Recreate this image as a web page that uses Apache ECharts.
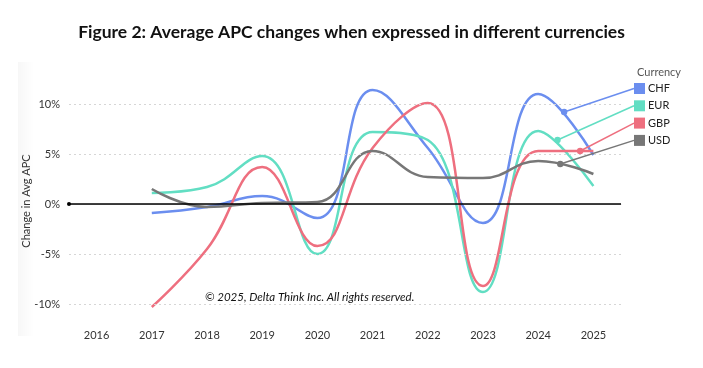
<!DOCTYPE html>
<html><head><meta charset="utf-8">
<script src="https://cdn.jsdelivr.net/npm/echarts@6/dist/echarts.min.js"></script>
<style>html,body{margin:0;padding:0;background:#fff}#c{width:703px;height:368px}</style>
</head><body><div id="c"></div>
<script>
const years = ['2016','2017','2018','2019','2020','2021','2022','2023','2024','2025'];
const seriesNames = ['CHF','EUR','GBP','USD'];
const chf = [null, -0.9, -0.3, 0.8, -1.4, 11.4, 5.6, -1.9, 11.0, 4.9];
const eur = [null, 1.1, 1.7, 4.8, -5.0, 7.2, 6.4, -8.8, 7.3, 1.8];
const gbp = [null, -10.3, -4.5, 3.7, -4.2, 5.6, 10.1, -8.2, 5.3, 5.3];
const usd = [null, 1.5, -0.3, 0.1, 0.2, 5.3, 2.7, 2.6, 4.3, 3.0];
const yTicks = [-10, -5, 0, 5, 10];
// callout points (fractional category index, value)
const calloutX = [8.47, 8.35, 8.76, 8.40];
const calloutY = [9.2, 6.4, 5.3, 4.0];

const colors = ['#6B8EEF', '#62DEC3', '#EE6F7F', '#777777'];
const values = [chf, eur, gbp, usd];
const FONT = 'Lato';

const chart = echarts.init(document.getElementById('c'), null, {renderer: 'canvas'});

const legendLeft = 634, legendTop = 83, itemH = 11, itemGap = 6.3;

const series = seriesNames.map((n, i) => ({
  name: n, type: 'line', data: values[i], smooth: 0.45,
  showSymbol: false, symbol: 'none',
  lineStyle: {width: 2.5, color: colors[i]},
  itemStyle: {color: colors[i]},
  z: 3
}));
series.push({
  type: 'line', data: [], silent: true, symbol: 'none',
  markLine: {
    silent: true, symbol: ['none', 'none'], label: {show: false},
    lineStyle: {type: [2, 3], color: '#d6d6d6', width: 1},
    data: yTicks.filter(v => v !== 0).map(v => ({yAxis: v}))
  },
  z: 1
});
series.push({
  type: 'line', data: [], silent: true, symbol: 'none',
  markLine: {
    silent: true, symbol: ['circle', 'none'], symbolSize: 4, label: {show: false},
    lineStyle: {type: 'solid', color: '#000', width: 1.5},
    data: [{yAxis: 0}]
  },
  z: 2
});

chart.setOption({
  animation: false,
  textStyle: {fontFamily: FONT},
  title: [
    {text: 'Figure 2: Average APC changes when expressed in different currencies', left: 'center', top: 18,
     textStyle: {fontFamily: FONT, fontWeight: 'bold', fontSize: 17.5, color: '#111'}},
    {text: 'Currency', left: 632, top: 62, textStyle: {fontFamily: FONT, fontWeight: 'normal', fontSize: 11, color: '#555'}}
  ],
  legend: {
    data: seriesNames, orient: 'vertical', left: legendLeft, top: legendTop,
    itemWidth: 11, itemHeight: itemH, itemGap: itemGap, icon: 'rect',
    textStyle: {fontFamily: FONT, fontSize: 11, color: '#222', padding: [0, 0, 0, -2]},
    padding: 0
  },
  grid: {left: 69, right: 82, top: 84, bottom: 50, containLabel: false},
  xAxis: [
    {type: 'category', data: years, boundaryGap: true,
     axisLine: {show: true, lineStyle: {color: '#dcdcdc', width: 1}},
     axisTick: {show: false},
     axisLabel: {fontFamily: FONT, fontSize: 11, color: '#333', margin: 12}},
    {type: 'value', min: -0.5, max: 9.5, show: false}
  ],
  yAxis: {
    type: 'value', min: -11.4, max: 12, splitNumber: 5,
    name: 'Change in Avg APC', nameLocation: 'middle', nameGap: 37, nameMoveOverlap: false,
    nameTextStyle: {fontFamily: FONT, fontSize: 11, color: '#333'},
    axisLine: {show: false}, axisTick: {show: false}, splitLine: {show: false},
    axisLabel: {fontFamily: FONT, fontSize: 11, color: '#333', margin: 9,
      formatter: v => (yTicks.indexOf(Math.round(v * 10) / 10) >= 0 ? v + '%' : '')}
  },
  series: series
});

function drawExtras() {
  const els = [];
  els.push({type: 'rect', shape: {x: 18, y: 62, width: 16, height: 274}, silent: true, z: -10,
    style: {fill: new echarts.graphic.LinearGradient(0, 0, 1, 0, [{offset: 0, color: '#f7f7f7'}, {offset: 1, color: '#ffffff'}])}});
  els.push({type: 'text', left: 205, top: 291, silent: true, z: 10,
    style: {text: '\u00A9 2025, Delta Think Inc. All rights reserved.', font: 'italic 11.5px Lato', fill: '#111'}});
  seriesNames.forEach((n, i) => {
    const p = chart.convertToPixel({xAxisIndex: 1, yAxisIndex: 0}, [calloutX[i], calloutY[i]]);
    const ey = legendTop + itemH / 2 + i * (itemH + itemGap);
    els.push({type: 'line', silent: true, z: 5,
      shape: {x1: p[0], y1: p[1], x2: legendLeft, y2: ey},
      style: {stroke: colors[i], lineWidth: 1.5}});
    els.push({type: 'circle', silent: true, z: 6,
      shape: {cx: p[0], cy: p[1], r: 3.2}, style: {fill: colors[i]}});
  });
  chart.setOption({graphic: els});
}
drawExtras();
</script></body></html>
